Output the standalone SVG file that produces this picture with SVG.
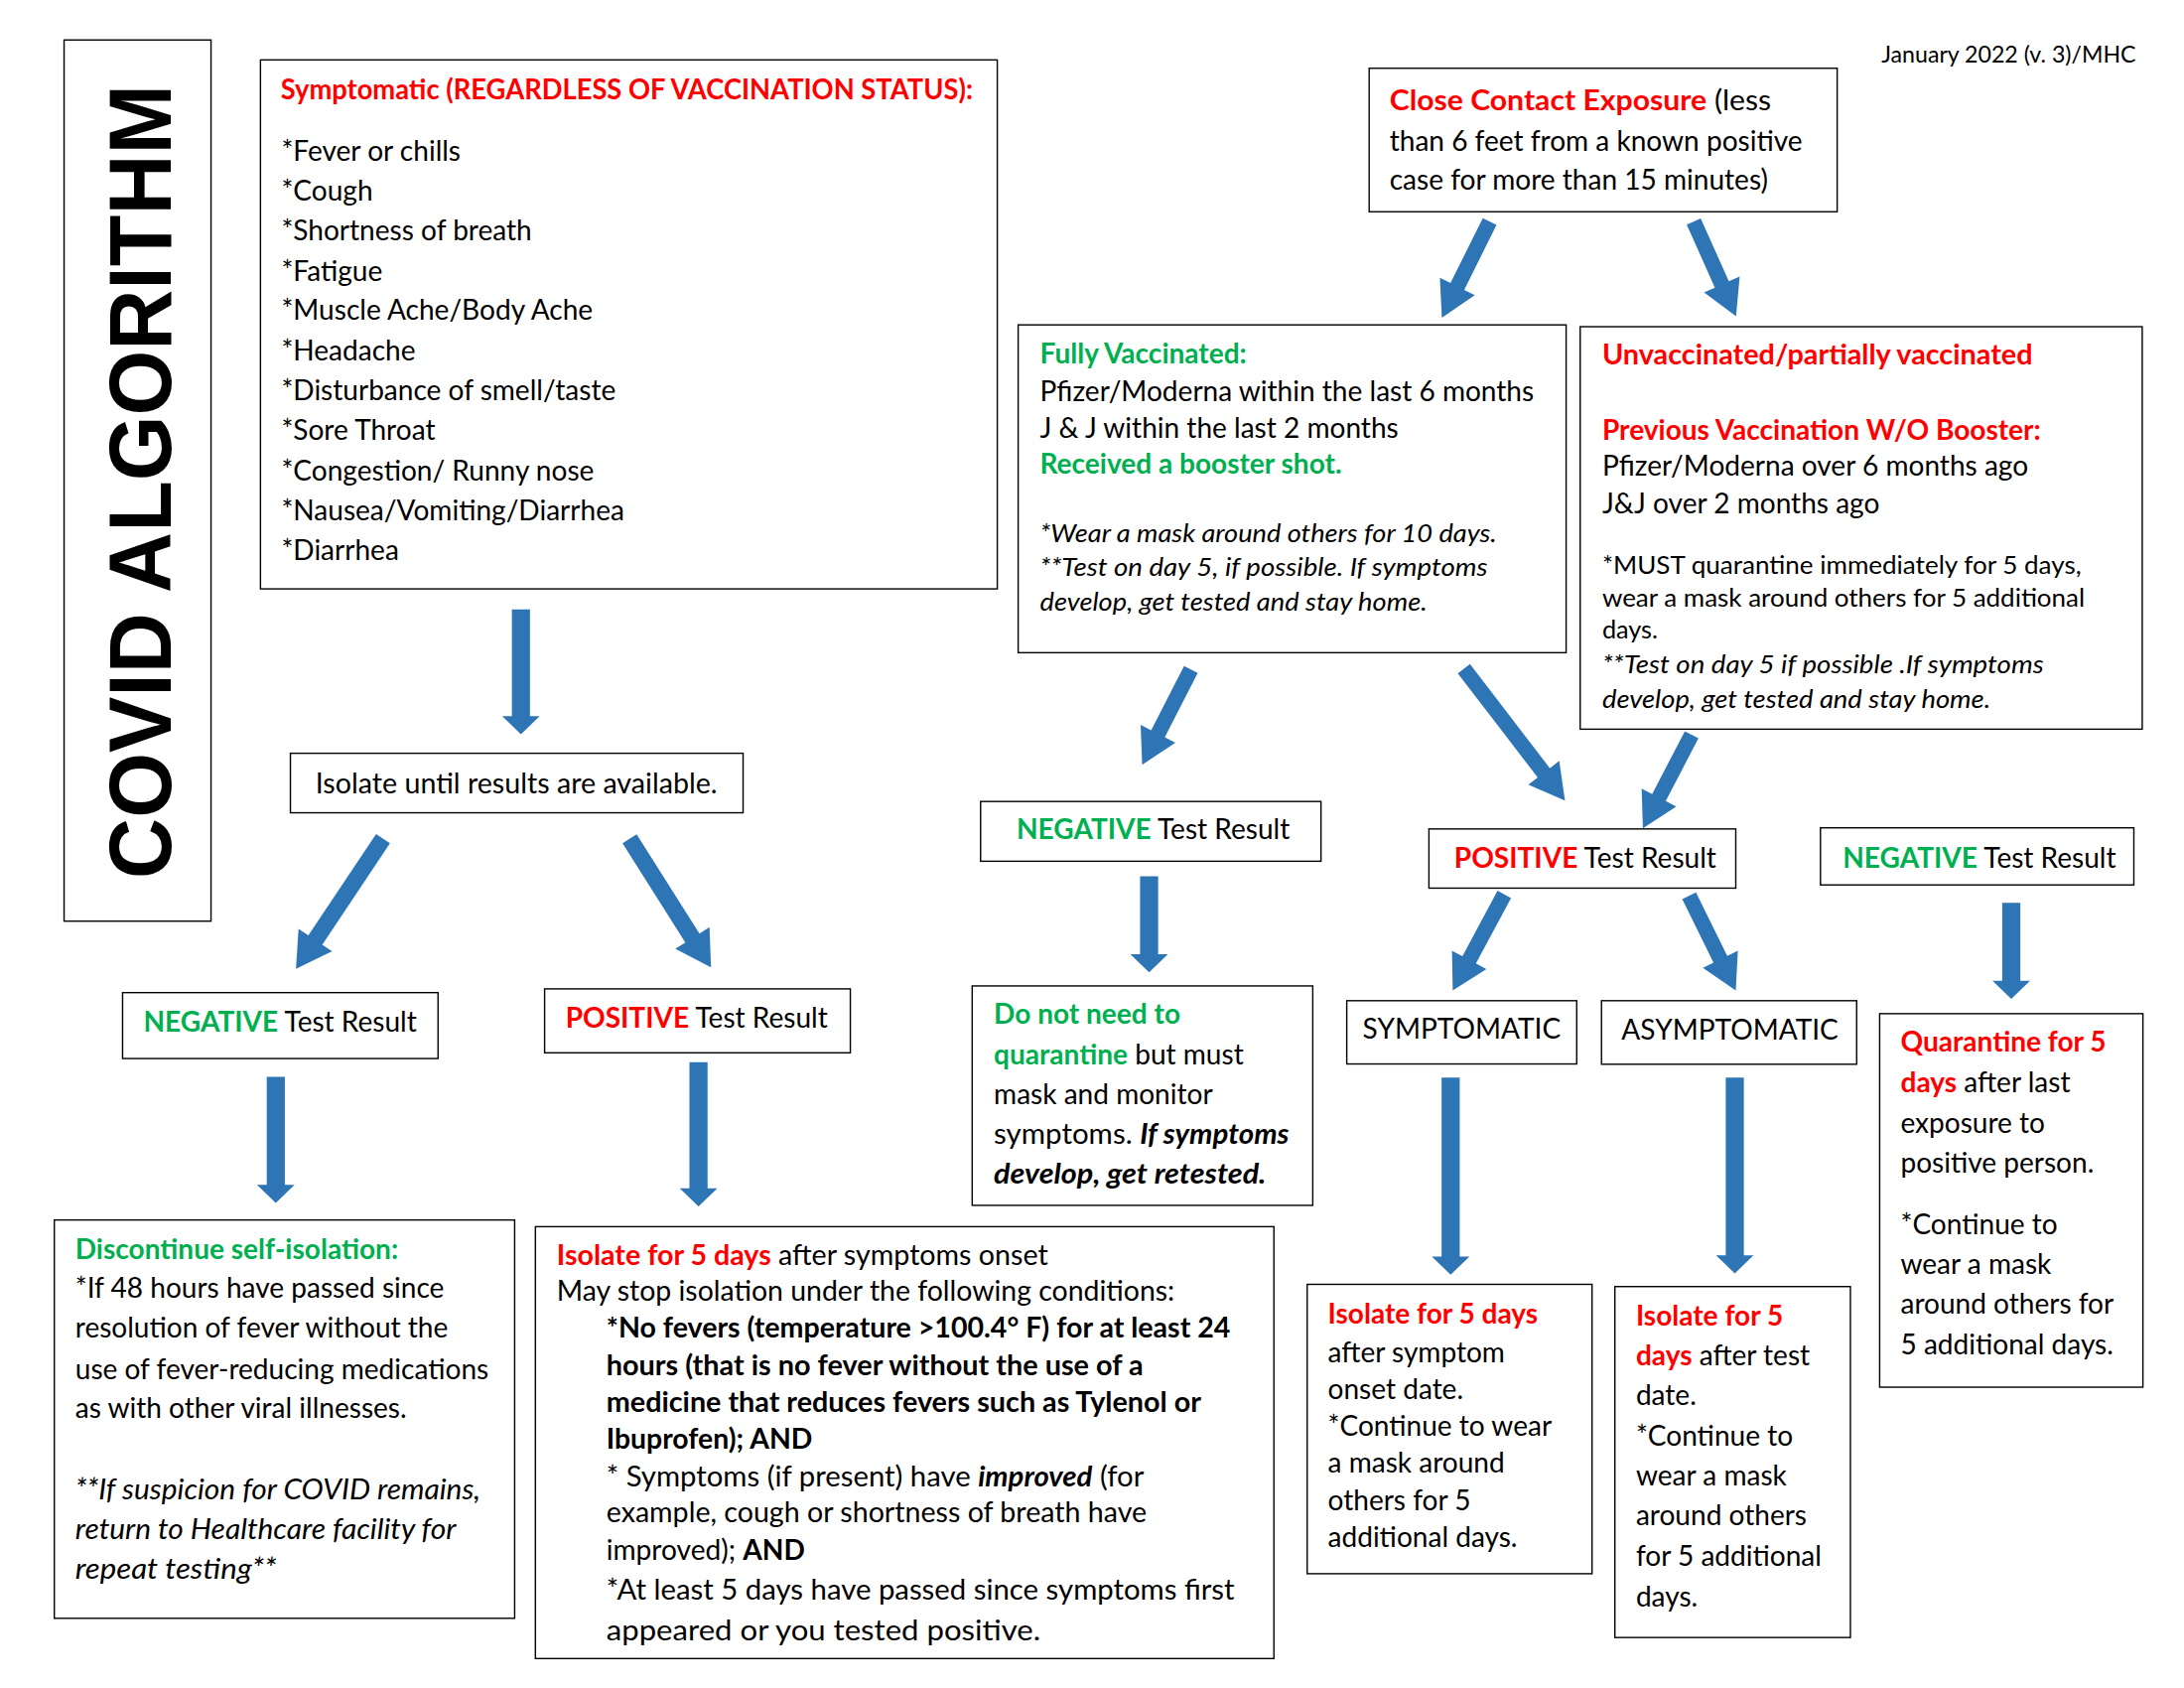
<svg xmlns="http://www.w3.org/2000/svg" width="2200" height="1700" viewBox="0 0 2200 1700">
<style>
.box{fill:#fff;stroke:#000;stroke-width:1}
text{font-family:Lato,"Liberation Sans",sans-serif;font-size:20px;fill:#000}
.s{font-size:18px}
.b{font-weight:bold}
.i{font-style:italic}
.r{fill:#FF0000}
.g{fill:#00B050}
.arr{fill:#2E75B6}
</style>
<rect width="2200" height="1700" fill="#fff"/>
<g transform="scale(1.40306)">
<g id="title">
<rect class="box" x="46" y="28.7" width="105.5" height="632.5"/>
<text x="122.5" y="345.7" transform="rotate(-90 122.5 345.7)" text-anchor="middle" style="font-family:'Liberation Sans',Arial,sans-serif;font-weight:bold;font-size:63px" textLength="570" lengthAdjust="spacingAndGlyphs">COVID ALGORITHM</text>
</g>
<g id="date">
<text x="1533.5" y="45" text-anchor="end" style="font-size:16.5px">January 2022 (v. 3)/MHC</text>
</g>
<g id="symptomatic">
<rect class="box" x="187" y="43" width="529" height="379.7"/>
<text x="201.5" y="71" class="b r" textLength="497" lengthAdjust="spacingAndGlyphs">Symptomatic (REGARDLESS OF VACCINATION STATUS):</text>
<text x="202" y="115.2">*Fever or chills</text>
<text x="202" y="144.2">*Cough</text>
<text x="202" y="172.8">*Shortness of breath</text>
<text x="202" y="201.5">*Fatigue</text>
<text x="202" y="229.8">*Muscle Ache/Body Ache</text>
<text x="202" y="259">*Headache</text>
<text x="202" y="287.4">*Disturbance of smell/taste</text>
<text x="202" y="316">*Sore Throat</text>
<text x="202" y="344.8">*Congestion/ Runny nose</text>
<text x="202" y="373.4">*Nausea/Vomiting/Diarrhea</text>
<text x="202" y="401.8">*Diarrhea</text>
</g>
<g id="isolate-until">
<rect class="box" x="208.5" y="540.7" width="325" height="42.7"/>
<text x="226.5" y="569.4" textLength="288.5" lengthAdjust="spacingAndGlyphs">Isolate until results are available.</text>
</g>
<g id="negative-left">
<rect class="box" x="88" y="712.5" width="226.5" height="47.3"/>
<text x="103" y="740.7"><tspan class="b g">NEGATIVE</tspan> Test Result</text>
</g>
<g id="positive-left">
<rect class="box" x="391" y="709.8" width="219.5" height="45.9"/>
<text x="406" y="737.5"><tspan class="b r">POSITIVE</tspan> Test Result</text>
</g>
<g id="discontinue">
<rect class="box" x="39" y="875.7" width="330.5" height="285.9"/>
<text x="54" y="903.4" class="b g">Discontinue self-isolation:</text>
<text x="54" y="931.6">*If 48 hours have passed since</text>
<text x="54" y="960.3">resolution of fever without the</text>
<text x="54" y="989.8">use of fever-reducing medications</text>
<text x="54" y="1018">as with other viral illnesses.</text>
<text x="54" y="1076.2" class="i" textLength="291" lengthAdjust="spacingAndGlyphs">**If suspicion for COVID remains,</text>
<text x="54" y="1104.4" class="i" textLength="273.5" lengthAdjust="spacingAndGlyphs">return to Healthcare facility for</text>
<text x="54" y="1133" class="i" textLength="144.5" lengthAdjust="spacingAndGlyphs">repeat testing**</text>
</g>
<g id="isolate-5-days">
<rect class="box" x="384.4" y="880.5" width="530.2" height="310"/>
<text x="399.7" y="908" textLength="352.7" lengthAdjust="spacingAndGlyphs"><tspan class="b r">Isolate for 5 days</tspan> after symptoms onset</text>
<text x="399.7" y="933.7" textLength="443.6" lengthAdjust="spacingAndGlyphs">May stop isolation under the following conditions:</text>
<text x="435.3" y="959.8" class="b" textLength="448" lengthAdjust="spacingAndGlyphs">*No fevers (temperature &gt;100.4° F) for at least 24</text>
<text x="435.3" y="987.1" class="b" textLength="385.5" lengthAdjust="spacingAndGlyphs">hours (that is no fever without the use of a</text>
<text x="435.3" y="1013.3" class="b" textLength="427" lengthAdjust="spacingAndGlyphs">medicine that reduces fevers such as Tylenol or</text>
<text x="435.3" y="1040.1" class="b" textLength="148" lengthAdjust="spacingAndGlyphs">Ibuprofen); AND</text>
<text x="435.3" y="1066.7" textLength="386" lengthAdjust="spacingAndGlyphs">* Symptoms (if present) have <tspan class="b i">improved</tspan> (for</text>
<text x="435.3" y="1092.8" textLength="388" lengthAdjust="spacingAndGlyphs">example, cough or shortness of breath have</text>
<text x="435.3" y="1119.4" textLength="142.6" lengthAdjust="spacingAndGlyphs">improved); <tspan class="b">AND</tspan></text>
<text x="435.3" y="1147.9" textLength="451" lengthAdjust="spacingAndGlyphs">*At least 5 days have passed since symptoms first</text>
<text x="435.3" y="1177.2" textLength="311.7" lengthAdjust="spacingAndGlyphs">appeared or you tested positive.</text>
</g>
<g id="close-contact">
<rect class="box" x="983" y="49" width="336" height="103"/>
<text x="997.6" y="79.1" textLength="274" lengthAdjust="spacingAndGlyphs"><tspan class="b r">Close Contact Exposure</tspan> (less</text>
<text x="997.6" y="108.4">than 6 feet from a known positive</text>
<text x="997.6" y="136.4">case for more than 15 minutes)</text>
</g>
<g id="fully-vaccinated">
<rect class="box" x="731" y="233.2" width="393.4" height="235.3"/>
<text x="746.6" y="260.8" class="b g">Fully Vaccinated:</text>
<text x="746.6" y="288.1">Pfizer/Moderna within the last 6 months</text>
<text x="746.6" y="314.4">J &amp; J within the last 2 months</text>
<text x="746.6" y="339.9" class="b g">Received a booster shot.</text>
<text x="746.6" y="389.4" class="s i" textLength="328" lengthAdjust="spacingAndGlyphs">*Wear a mask around others for 10 days.</text>
<text x="746.6" y="413.6" class="s i" textLength="321.5" lengthAdjust="spacingAndGlyphs">**Test on day 5, if possible. If symptoms</text>
<text x="746.6" y="438.1" class="s i" textLength="278" lengthAdjust="spacingAndGlyphs">develop, get tested and stay home.</text>
</g>
<g id="unvaccinated">
<rect class="box" x="1134.5" y="234.5" width="403.5" height="288.9"/>
<text x="1150.3" y="261.8" class="b r" textLength="309" lengthAdjust="spacingAndGlyphs">Unvaccinated/partially vaccinated</text>
<text x="1150.3" y="315.4" class="b r">Previous Vaccination W/O Booster:</text>
<text x="1150.3" y="341.6">Pfizer/Moderna over 6 months ago</text>
<text x="1150.3" y="368.2">J&amp;J over 2 months ago</text>
<text x="1150.3" y="411.9" class="s" textLength="344" lengthAdjust="spacingAndGlyphs">*MUST quarantine immediately for 5 days,</text>
<text x="1150.3" y="435.7" class="s" textLength="346.5" lengthAdjust="spacingAndGlyphs">wear a mask around others for 5 additional</text>
<text x="1150.3" y="458.6" class="s">days.</text>
<text x="1150.3" y="483.5" class="s i" textLength="317" lengthAdjust="spacingAndGlyphs">**Test on day 5 if possible .If symptoms</text>
<text x="1150.3" y="508" class="s i" textLength="278.8" lengthAdjust="spacingAndGlyphs">develop, get tested and stay home.</text>
</g>
<g id="negative-middle">
<rect class="box" x="704" y="575.3" width="244.4" height="42.9"/>
<text x="729.8" y="602.6"><tspan class="b g">NEGATIVE</tspan> Test Result</text>
</g>
<g id="do-not-need">
<rect class="box" x="698" y="707.7" width="244.5" height="157.5"/>
<text x="713.5" y="735" class="b g">Do not need to</text>
<text x="713.5" y="763.7"><tspan class="b g">quarantine</tspan> but must</text>
<text x="713.5" y="792.4">mask and monitor</text>
<text x="713.5" y="821.1" textLength="212" lengthAdjust="spacingAndGlyphs">symptoms. <tspan class="b i">If symptoms</tspan></text>
<text x="713.5" y="849.8" class="b i" textLength="195.5" lengthAdjust="spacingAndGlyphs">develop, get retested.</text>
</g>
<g id="positive-middle">
<rect class="box" x="1025.9" y="595" width="220.3" height="42.5"/>
<text x="1044" y="623.1"><tspan class="b r">POSITIVE</tspan> Test Result</text>
</g>
<g id="negative-right">
<rect class="box" x="1307" y="594.2" width="225" height="41"/>
<text x="1323" y="623.1"><tspan class="b g">NEGATIVE</tspan> Test Result</text>
</g>
<g id="symptomatic-case">
<rect class="box" x="966.9" y="718.3" width="165.1" height="45.4"/>
<text x="1049.4" y="745.8" text-anchor="middle">SYMPTOMATIC</text>
</g>
<g id="asymptomatic-case">
<rect class="box" x="1149.8" y="718.3" width="183.2" height="45.6"/>
<text x="1242" y="746.2" text-anchor="middle">ASYMPTOMATIC</text>
</g>
<g id="isolate-symptom-onset">
<rect class="box" x="938.5" y="921.9" width="204.5" height="207.7"/>
<text x="953.3" y="950" class="b r">Isolate for 5 days</text>
<text x="953.3" y="977.6">after symptom</text>
<text x="953.3" y="1004">onset date.</text>
<text x="953.3" y="1030.3">*Continue to wear</text>
<text x="953.3" y="1057">a mask around</text>
<text x="953.3" y="1083.8">others for 5</text>
<text x="953.3" y="1110.2">additional days.</text>
</g>
<g id="isolate-test-date">
<rect class="box" x="1159.4" y="923.5" width="169.1" height="251.9"/>
<text x="1174.5" y="951.3" class="b r">Isolate for 5</text>
<text x="1174.5" y="980.2"><tspan class="b r">days</tspan> after test</text>
<text x="1174.5" y="1008.7">date.</text>
<text x="1174.5" y="1037.6">*Continue to</text>
<text x="1174.5" y="1066.5">wear a mask</text>
<text x="1174.5" y="1095">around others</text>
<text x="1174.5" y="1124">for 5 additional</text>
<text x="1174.5" y="1152.9">days.</text>
</g>
<g id="quarantine">
<rect class="box" x="1349.5" y="727.6" width="189" height="268.1"/>
<text x="1364.5" y="754.8" class="b r">Quarantine for 5</text>
<text x="1364.5" y="784.2"><tspan class="b r">days</tspan> after last</text>
<text x="1364.5" y="813.1">exposure to</text>
<text x="1364.5" y="842">positive person.</text>
<text x="1364.5" y="885.6">*Continue to</text>
<text x="1364.5" y="914.6">wear a mask</text>
<text x="1364.5" y="943">around others for</text>
<text x="1364.5" y="972">5 additional days.</text>
</g>
<g id="connectors">
<path class="arr" transform="translate(374 437.5) rotate(90)" d="M0,-6.5H76.5V-13.5L89.5,0L76.5,13.5V6.5H0Z"/>
<path class="arr" transform="translate(275 602) rotate(123.76)" d="M0,-6H87.5V-14.5L112.5,0L87.5,14.5V6H0Z"/>
<path class="arr" transform="translate(452 602) rotate(57.69)" d="M0,-6H84.4V-14.5L109.4,0L84.4,14.5V6H0Z"/>
<path class="arr" transform="translate(198 773) rotate(90)" d="M0,-6.5H77.5V-13.5L90.5,0L77.5,13.5V6.5H0Z"/>
<path class="arr" transform="translate(501.5 762.5) rotate(90)" d="M0,-6.5H90.5V-13.5L103.5,0L90.5,13.5V6.5H0Z"/>
<path class="arr" transform="translate(1069.5 159) rotate(116.43)" d="M0,-5.5H52.1V-14L77.1,0L52.1,14V5.5H0Z"/>
<path class="arr" transform="translate(1216 159) rotate(65.9)" d="M0,-5.5H49.5V-14L74.5,0L49.5,14V5.5H0Z"/>
<path class="arr" transform="translate(855 480.5) rotate(117.06)" d="M0,-5.5H51.9V-14L76.9,0L51.9,14V5.5H0Z"/>
<path class="arr" transform="translate(1051 480) rotate(52.5)" d="M0,-5.5H94.2V-14L119.2,0L94.2,14V5.5H0Z"/>
<path class="arr" transform="translate(1214.5 527.4) rotate(117.5)" d="M0,-5.5H50.8V-14L75.8,0L50.8,14V5.5H0Z"/>
<path class="arr" transform="translate(825 629) rotate(90)" d="M0,-6.5H56V-13.5L69,0L56,13.5V6.5H0Z"/>
<path class="arr" transform="translate(1080 642) rotate(118.2)" d="M0,-5.5H53.3V-14L78.3,0L53.3,14V5.5H0Z"/>
<path class="arr" transform="translate(1212.7 643) rotate(63.77)" d="M0,-5.5H50.8V-14L75.8,0L50.8,14V5.5H0Z"/>
<path class="arr" transform="translate(1041.5 773.5) rotate(90)" d="M0,-6.5H128.5V-13.5L141.5,0L128.5,13.5V6.5H0Z"/>
<path class="arr" transform="translate(1245.5 773.5) rotate(90)" d="M0,-6.5H127.5V-13.5L140.5,0L127.5,13.5V6.5H0Z"/>
<path class="arr" transform="translate(1444 648) rotate(90)" d="M0,-6.5H56V-13.5L69,0L56,13.5V6.5H0Z"/>
</g>
</g>
</svg>
